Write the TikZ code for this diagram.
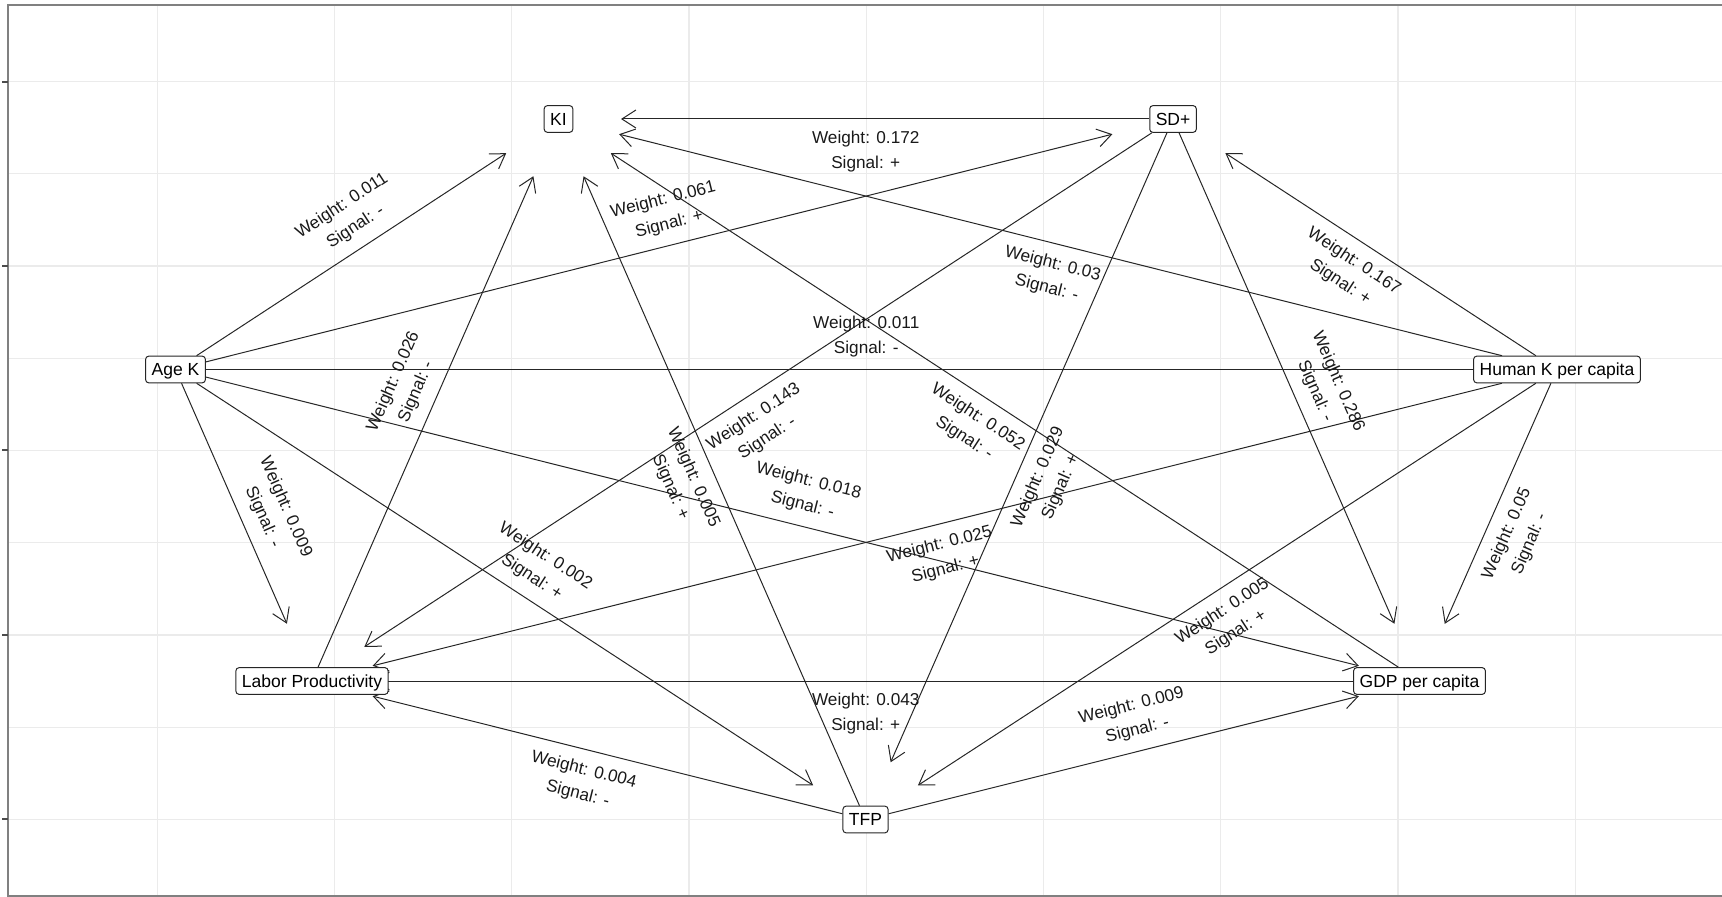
\documentclass[tikz,border=0pt]{standalone}
\usepackage{fontspec}
\newfontfamily\labfont{Liberation Sans}
\usetikzlibrary{arrows.meta,calc}
\pgfdeclarelayer{gridlayer}
\pgfdeclarelayer{edgelayer}
\pgfsetlayers{gridlayer,edgelayer,main}
\begin{document}
\begin{tikzpicture}[x=0.5pt,y=-0.5pt,
  vbox/.style={draw=black!85, fill=white, rounded corners=1.5pt, line width=0.5pt,
     font=\labfont\fontsize{8.75}{10}\selectfont, inner xsep=3pt, inner ysep=0pt,
     text height=6.3pt, text depth=0pt, minimum height=13.3pt},
  link/.style={draw=black!85, line width=0.5pt, -{Straight Barb[length=7pt,width=9pt]}},
  endcap/.style={to path={-- ($(\tikztotarget.center)!31.25pt!(\tikztostart.center)$)}},
  wlab/.style={font=\labfont\fontsize{8.6}{12.5}\selectfont, align=center, inner sep=0pt, sloped, text=black!90},
  labup/.style={wlab, yshift=16.5pt},
  labdn/.style={wlab, yshift=-16.5pt},
  gridline/.style={draw=black!8, line width=0.6pt}
]
\useasboundingbox (0,0) rectangle (1722,897);

% nodes
\node[vbox] (KI)  at (558.5,119) {KI};
\node[vbox] (SD)  at (1173,119) {SD+};
\node[vbox] (AK)  at (175.5,369.5) {Age K};
\node[vbox] (HK)  at (1557,369.5) {Human K per capita};
\node[vbox] (LP)  at (312,681) {Labor Productivity};
\node[vbox] (GDP) at (1419.5,681) {GDP per capita};
\node[vbox] (TFP) at (865.5,819.5) {TFP};

\begin{pgfonlayer}{gridlayer}
  \foreach \gx in {157.3,334.55,511.8,689.05,866.3,1043.55,1220.8,1398.05,1575.3}
    \draw[gridline] (\gx,5) -- (\gx,897);
  \foreach \gy in {81.7,173.9,266.1,358.3,450.5,542.7,634.9,727.1,819.3}
    \draw[gridline] (8,\gy) -- (1722,\gy);
  \draw[black!50, line width=1pt] (1722,5) -- (8,5) -- (8,896) -- (1722,896);
  \foreach \gy in {81.7,266.1,450.5,634.9,819.3}
    \draw[black!70, line width=1pt] (2,\gy) -- (8,\gy);
\end{pgfonlayer}

\begin{pgfonlayer}{edgelayer}
  % connectors
  \draw[link] (AK) to[endcap] (KI);
  \draw[link] (AK) to[endcap] (SD);
  \draw[link] (AK) to[endcap] (HK);
  \draw[link] (AK) to[endcap] (LP);
  \draw[link] (AK) to[endcap] (GDP);
  \draw[link] (AK) to[endcap] (TFP);
  \draw[link] (SD) to[endcap] (KI);
  \draw[link] (HK) to[endcap] (KI);
  \draw[link] (LP) to[endcap] (KI);
  \draw[link] (GDP) to[endcap] (KI);
  \draw[link] (TFP) to[endcap] (KI);
  \draw[link] (HK) to[endcap] (SD);
  \draw[link] (SD) to[endcap] (LP);
  \draw[link] (SD) to[endcap] (GDP);
  \draw[link] (SD) to[endcap] (TFP);
  \draw[link] (HK) to[endcap] (LP);
  \draw[link] (HK) to[endcap] (GDP);
  \draw[link] (HK) to[endcap] (TFP);
  \draw[link] (GDP) to[endcap] (LP);
  \draw[link] (TFP) to[endcap] (GDP);
  \draw[link] (TFP) to[endcap] (LP);
  % labels
  \path (AK.center) -- node[labup] {Weight: 0.011\\Signal: -} (KI.center);
  \path (AK.center) -- node[labup] {Weight: 0.061\\Signal: +} (SD.center);
  \path (AK.center) -- node[labup] {Weight: 0.011\\Signal: -} (HK.center);
  \path (AK.center) -- node[labup] {Weight: 0.009\\Signal: -} (LP.center);
  \path (AK.center) -- node[labup] {Weight: 0.018\\Signal: -} (GDP.center);
  \path (AK.center) -- node[labup] {Weight: 0.002\\Signal: +} (TFP.center);
  \path (SD.center) -- node[labdn] {Weight: 0.172\\Signal: +} (KI.center);
  \path (HK.center) -- node[labdn] {Weight: 0.03\\Signal: -} (KI.center);
  \path (LP.center) -- node[labup] {Weight: 0.026\\Signal: -} (KI.center);
  \path (GDP.center) -- node[labdn] {Weight: 0.052\\Signal: -} (KI.center);
  \path (TFP.center) -- node[labdn] {Weight: 0.005\\Signal: +} (KI.center);
  \path (HK.center) -- node[labdn] {Weight: 0.167\\Signal: +} (SD.center);
  \path (SD.center) -- node[labdn] {Weight: 0.143\\Signal: -} (LP.center);
  \path (SD.center) -- node[labup] {Weight: 0.286\\Signal: -} (GDP.center);
  \path (SD.center) -- node[labdn] {Weight: 0.029\\Signal: +} (TFP.center);
  \path (HK.center) -- node[labdn] {Weight: 0.025\\Signal: +} (LP.center);
  \path (HK.center) -- node[labdn] {Weight: 0.05\\Signal: -} (GDP.center);
  \path (HK.center) -- node[labdn] {Weight: 0.005\\Signal: +} (TFP.center);
  \path (GDP.center) -- node[labdn] {Weight: 0.043\\Signal: +} (LP.center);
  \path (TFP.center) -- node[labup] {Weight: 0.009\\Signal: -} (GDP.center);
  \path (TFP.center) -- node[labdn] {Weight: 0.004\\Signal: -} (LP.center);
\end{pgfonlayer}
\end{tikzpicture}
\end{document}
